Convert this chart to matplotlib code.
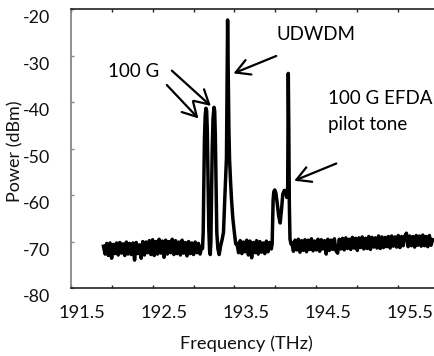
import numpy as np
import matplotlib
matplotlib.use("Agg")
import matplotlib.pyplot as plt
from matplotlib.transforms import ScaledTranslation

plt.rcParams['font.family'] = ['Lato', 'DejaVu Sans']

# ---------------- data ----------------
# noise floor segments on a uniform sample grid (THz)
left_start, left_step = 191.90, 0.02
left_noise = [-71.0, -72.7, -70.4, -73.0, -70.3, -73.6, -70.6, -72.6, -70.3, -72.9,
              -70.2, -72.5, -70.5, -73.0, -70.1, -72.7, -70.4, -72.8, -70.3, -74.0,
              -70.2, -72.6, -70.7, -73.6, -70.0, -72.9, -70.1, -72.4, -69.8, -72.8,
              -69.6, -73.0, -70.0, -72.7, -69.5, -72.5, -69.9, -73.4, -69.7, -72.7,
              -70.0, -72.4, -69.5, -72.8, -69.8, -72.6, -70.1, -72.9, -69.7, -72.5,
              -70.2, -73.1, -70.0, -72.6, -70.3, -72.8, -70.1, -72.4, -70.4, -72.7, -71.0]

# 100 G channels + UDWDM carrier (freq THz, power dBm)
chan_freq = [193.110, 193.118, 193.125, 193.133, 193.142, 193.152, 193.160, 193.168,
             193.176, 193.186, 193.196, 193.204,
             193.212, 193.220, 193.228, 193.238, 193.250, 193.258, 193.266, 193.274,
             193.284, 193.297, 193.313,
             193.330, 193.350, 193.366, 193.374, 193.381, 193.392, 193.402, 193.410,
             193.416, 193.422, 193.432, 193.440, 193.452, 193.464, 193.480, 193.498,
             193.515]
chan_pow = [-71.5, -68.0, -58.0, -48.0, -43.0, -41.3, -41.8, -46.0,
            -56.0, -67.0, -72.0, -72.8,
            -70.0, -60.0, -50.0, -43.5, -41.1, -41.8, -47.0, -57.0,
            -68.0, -71.5, -72.8,
            -71.0, -69.5, -68.0, -64.0, -61.0, -56.0, -52.0, -35.0,
            -22.3, -32.0, -46.0, -52.4, -57.0, -61.0, -65.0, -68.0,
            -70.5]

mid_start, mid_step = 193.53, 0.02
mid_noise = [-70.4, -72.4, -69.8, -72.6, -70.1, -72.2, -69.7, -72.9, -69.9, -73.5, -70.2,
             -72.4, -69.8, -72.7, -70.0, -72.3, -70.3, -72.6, -69.9, -72.2, -70.2, -71.6]

# 100 G EFDA channel + pilot tone
pilot_freq = [193.960, 193.966, 193.972, 193.980, 193.992, 194.005, 194.020, 194.040,
              194.058, 194.075, 194.090, 194.108, 194.125, 194.140, 194.150, 194.157,
              194.163, 194.170, 194.178, 194.190]
pilot_pow = [-70.5, -66.0, -61.0, -59.3, -58.9, -59.5, -61.5, -64.5,
             -66.0, -63.0, -59.8, -59.0, -59.5, -60.5, -58.0, -33.8,
             -45.0, -62.0, -69.5, -70.5]

right_start, right_step = 194.20, 0.02
right_noise = [-70.2, -72.1, -69.7, -71.8, -69.5, -72.3, -69.8, -71.9, -69.6, -72.2,
               -69.7, -71.7, -69.4, -72.0, -69.9, -71.8, -69.5, -72.1, -69.6, -71.6,
               -69.8, -72.7, -69.5, -71.9, -69.7, -71.7, -69.4, -72.0, -72.5, -69.5,
               -71.6, -69.3, -71.8, -69.2, -71.5, -69.5, -71.7, -69.1, -71.4, -69.3,
               -71.9, -69.2, -71.3, -69.0, -71.6, -69.3, -71.5, -68.9, -71.7, -69.1,
               -71.2, -69.2, -71.4, -68.8, -71.5, -69.0, -71.3, -69.1, -71.1, -68.9,
               -71.4, -68.8, -71.0, -69.0, -71.2, -68.7, -71.3, -68.9, -70.9, -68.8,
               -68.2, -71.1, -68.8, -70.9, -68.9, -71.2, -68.7, -70.8, -68.8, -71.0,
               -68.6, -70.9, -68.9, -71.1, -68.7, -70.8, -69.6]

x_major = [191.5, 192.0, 192.5, 193.0, 193.5, 194.0, 194.5, 195.0, 195.5, 196.0]
x_labels = ['191.5', '', '192.5', '', '193.5', '', '194.5', '', '195.5', '']
y_major = [-80, -70, -60, -50, -40, -30, -20]
y_labels = ['-80', '-70', '-60', '-50', '-40', '-30', '-20']

# ---------------- assemble trace ----------------
def grid(start, step, vals):
    return start + step * np.arange(len(vals))

freq = np.concatenate([grid(left_start, left_step, left_noise), chan_freq,
                       grid(mid_start, mid_step, mid_noise), pilot_freq,
                       grid(right_start, right_step, right_noise)])
power = np.concatenate([left_noise, chan_pow, mid_noise, pilot_pow, right_noise])

# ---------------- figure ----------------
W, H = 435, 356
fig = plt.figure(figsize=(W / 100, H / 100), dpi=100)
ax = fig.add_axes([70.7 / W, 1 - 288 / H, (439.2 - 70.7) / W, (288 - 9.3) / H])
ax.plot(freq, power, color='black', lw=2.5, solid_joinstyle='round')

ax.set_xlim(191.5, 196.0)
ax.set_ylim(-80, -20)
ax.set_xticks(x_major)
ax.set_xticklabels(x_labels)
ax.set_yticks(y_major)
ax.set_yticklabels(y_labels)

ax.tick_params(axis='x', direction='in', length=2.5, width=1, color='#222222',
               labelsize=13.2, pad=12, top=True, labelcolor='#111111')
ax.tick_params(axis='y', direction='in', length=2, width=1, color='#888888',
               labelsize=12.8, pad=15, labelcolor='#111111')
ax.spines['left'].set_color('#888888')
ax.spines['left'].set_linewidth(1.3)
for s in ['bottom', 'top']:
    ax.spines[s].set_color('#222222')
    ax.spines[s].set_linewidth(1.2)

offx = ScaledTranslation(11.5 / 100, 0, fig.dpi_scale_trans)
for lab in ax.get_xticklabels():
    lab.set_transform(lab.get_transform() + offx)
offy = ScaledTranslation(0, -7.5 / 100, fig.dpi_scale_trans)
for lab in ax.get_yticklabels():
    lab.set_transform(lab.get_transform() + offy)

fig.text(246 / W, 1 - 344 / H, 'Frequency (THz)', ha='center', va='center',
         fontsize=13.2, color='#111111')
fig.text(15 / W, 1 - 151 / H, 'Power (dBm)', ha='center', va='center',
         rotation=90, fontsize=13.0, color='#111111')

# annotations
arrow = dict(arrowstyle='->,head_length=0.5,head_width=0.28', lw=1.6,
             color='black', mutation_scale=20, shrinkA=0, shrinkB=0)
ax.annotate('', xy=(193.060, -43.5), xytext=(192.674, -36.3), arrowprops=arrow)
ax.annotate('', xy=(193.211, -40.8), xytext=(192.735, -33.2), arrowprops=arrow)
ax.annotate('', xy=(193.488, -33.8), xytext=(194.010, -30.05), arrowprops=arrow)
ax.annotate('', xy=(194.230, -56.9), xytext=(194.743, -53.2), arrowprops=arrow)

ax.text(192.274, -33.3, '100 G', ha='center', va='center', fontsize=13.5)
ax.text(194.493, -25.5, 'UDWDM', ha='center', va='center', fontsize=13.5)
ax.text(194.645, -39.3, '100 G EFDA', ha='left', va='center', fontsize=13.5)
ax.text(194.645, -44.7, 'pilot tone', ha='left', va='center', fontsize=13.5)

fig.savefig('out.png', dpi=100)
